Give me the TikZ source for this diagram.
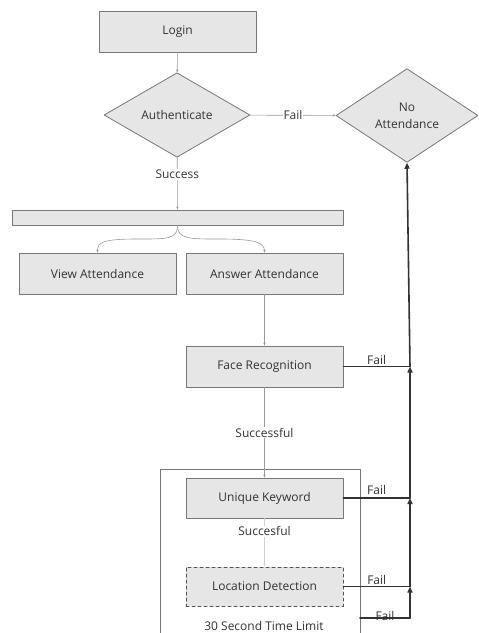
\documentclass[tikz,border=0pt]{standalone}
\usepackage{fontspec}
\setmainfont{Open Sans}
\usetikzlibrary{arrows.meta,shapes.geometric}
\definecolor{boxfill}{HTML}{E6E6E6}
\definecolor{boxline}{HTML}{777777}
\definecolor{txt}{HTML}{333333}
\definecolor{thinline}{HTML}{9A9A9A}

\begin{document}
\begin{tikzpicture}[line cap=round,line join=round,x=1pt,y=-1pt,
    box/.style={draw=boxline,fill=boxfill,line width=0.8pt,minimum width=157pt,minimum height=41pt,text=txt,font=\fontsize{12}{14}\selectfont},
    decide/.style={diamond,draw=boxline,fill=boxfill,line width=0.8pt,inner sep=1pt,text=txt,align=center,font=\fontsize{12}{17}\selectfont},
    flow/.style={draw=thinline,line width=0.6pt,-{Stealth[length=3pt,width=2.5pt]}},
    failline/.style={draw=txt,line width=1.6pt},
    failarrow/.style={draw=txt,line width=1.6pt,-{Triangle[length=6pt,width=5pt]}},
    lbl/.style={fill=white,text=txt,inner sep=1pt,font=\fontsize{12}{14}\selectfont}]
    \useasboundingbox (0,0) rectangle (479,633);
    % boxes
    \node[box] (login) at (177.5,31.5) {Login};
    \node[decide,minimum width=146pt,minimum height=57pt] (auth) at (177,115) {Authenticate};
    \node[decide,minimum width=142pt,minimum height=93pt] (noatt) at (407,115.5) {No\\Attendance};
    \node[box,minimum width=331pt,minimum height=15pt] (bar) at (177.5,217.5) {};
    \node[box] (view) at (97.5,273.5) {View Attendance};
    \node[box] (answer) at (264.5,273.5) {Answer Attendance};
    \node[box] (face) at (264.5,366.5) {Face Recognition};
    % time limit frame
    \draw[draw=boxline,line width=0.6pt] (160,645) -- (160,469) -- (360,469) -- (360,645);
    \node[box,minimum height=40pt] (keyword) at (264.5,498) {Unique Keyword};
    \node[box,dashed,draw=txt!85,line width=1pt,minimum height=39pt] (location) at (264.5,586.5) {Location Detection};
    \node[lbl] (limit) at (264,626) {30 Second Time Limit};
    \coordinate (frame) at (360,618);
    % junctions on the fail line
    \coordinate (j1) at (410,366.5);
    \coordinate (j2) at (410,498);
    \coordinate (j3) at (410,586.5);
    \coordinate (j4) at (410,618);
    % thin arrows
    \draw[flow] (login) -- (auth);
    \draw[flow] (auth) -- node[lbl] {Fail} (noatt);
    \draw[flow] (auth) -- node[lbl,pos=0.32] {Success} (bar);
    \draw[flow] (bar.south) .. controls +(0,14) and +(30,0) .. (137,239) .. controls +(-35,0) and +(0,-10) .. (view.north);
    \draw[flow] (bar.south) .. controls +(0,14) and +(-30,0) .. (220,239) .. controls +(35,0) and +(0,-10) .. (answer.north);
    \draw[flow] (answer) -- (face);
    \draw[flow] (face) -- node[lbl] {Successful} (keyword);
    \draw[flow,draw=thinline!45] (keyword) -- node[lbl,pos=0.27] {Succesful} (location);
    % fail lines
    \draw[failline] (face.east) -- node[lbl,fill=none,above=0pt] {Fail} (j1);
    \draw[failline] (keyword.east) -- node[lbl,fill=none,above=2pt] {Fail} (j2);
    \draw[failline] (location.east) -- node[lbl,fill=none,above=0pt] {Fail} (j3);
    \draw[failline] (frame) -- node[lbl,fill=none,above=-4pt] {Fail} (j4);
    \draw[failarrow] (j4) -- (j3);
    \draw[failarrow] (j3) -- (j2);
    \draw[failarrow] (j2) -- (j1);
    \draw[failarrow] (j1) -- (noatt.south);
\end{tikzpicture}
\end{document}
